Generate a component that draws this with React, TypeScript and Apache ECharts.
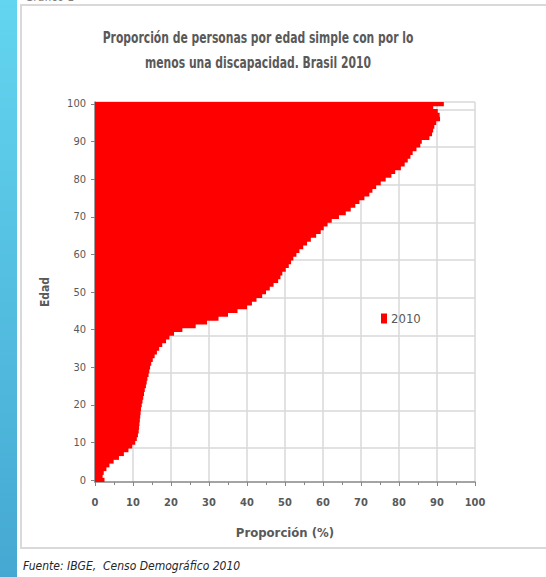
import React, { useEffect, useRef } from "react";
import * as echarts from "echarts";

const ages: string[] = Array.from({ length: 101 }, (_, i) => String(i));
const proportion2010: number[] = [
  2.5, 2.0, 2.3, 3.0, 3.8, 4.9, 6.3, 7.6, 8.8, 9.8,
  10.6, 11.0, 11.3, 11.5, 11.6, 11.7, 11.8, 11.9, 12.0, 12.1,
  12.3, 12.5, 12.7, 12.9, 13.1, 13.4, 13.6, 13.8, 14.1, 14.3,
  14.5, 14.8, 15.2, 15.7, 16.3, 16.9, 17.7, 18.7, 19.6, 20.8,
  23.0, 26.5, 29.5, 32.5, 35.0, 37.5, 40.0, 41.3, 42.5, 44.0,
  45.0, 46.0, 47.0, 48.2, 48.8, 49.3, 50.2, 51.0, 51.6, 52.2,
  53.0, 53.8, 54.8, 55.8, 56.8, 58.2, 59.4, 60.2, 61.2, 62.3,
  64.2, 66.0, 67.3, 68.5, 69.6, 70.9, 72.2, 73.0, 74.0, 75.2,
  76.5, 78.0, 79.0, 80.5, 81.5, 82.3, 83.0, 83.6, 84.6, 85.6,
  86.0, 88.0, 88.7, 89.0, 89.3, 89.8, 90.8, 90.7, 90.2, 89.0,
  91.8,
];
const seriesName = "2010";
const titleLines = [
  "Proporción de personas por edad simple con por lo",
  "menos una discapacidad. Brasil 2010",
];
const xAxisName = "Proporción (%)";
const yAxisName = "Edad";
const sourceText = "Fuente: IBGE,  Censo Demográfico 2010";
const figureLabel = "Gráfico 1";

const FONT = "'DejaVu Sans Condensed', 'Open Sans', sans-serif";

export default function App() {
  const ref = useRef<HTMLDivElement>(null);
  useEffect(() => {
    document.body.style.margin = "0";
    if (!ref.current) return;
    const chart = echarts.init(ref.current, null, { renderer: "svg" });
    chart.setOption({
      animation: false,
      backgroundColor: "#ffffff",
      textStyle: { fontFamily: FONT },
      legend: {
        left: 376,
        top: 307,
        itemWidth: 6,
        itemHeight: 10,
        itemGap: 4,
        data: [{ name: seriesName, icon: "rect" }],
        textStyle: { fontFamily: FONT, fontSize: 13, color: "#595959", padding: [0, 0, 0, -1] },
      },
      grid: { left: 95, right: 71, top: 102, bottom: 95, containLabel: false },
      xAxis: {
        type: "value",
        min: 0,
        max: 100,
        interval: 10,
        name: xAxisName,
        nameLocation: "middle",
        nameGap: 44,
        nameTextStyle: { fontFamily: FONT, fontSize: 13, fontWeight: "bold", color: "#595959" },
        axisLine: { show: true, lineStyle: { color: "#868686", width: 1.5 } },
        axisTick: { show: true, inside: false, length: 4, lineStyle: { color: "#868686" } },
        minorTick: { show: true, splitNumber: 2, length: 3, lineStyle: { color: "#868686" } },
        axisLabel: { fontFamily: FONT, fontSize: 11, fontWeight: "bold", color: "#595959", margin: 15 },
        splitLine: { show: true, lineStyle: { color: "#d9d9d9", width: 1.5 } },
      },
      yAxis: {
        type: "category",
        data: ages,
        name: yAxisName,
        nameLocation: "middle",
        nameGap: 44,
        nameRotate: 90,
        nameTextStyle: { fontFamily: FONT, fontSize: 12, fontWeight: "bold", color: "#595959" },
        axisLine: { show: true, lineStyle: { color: "#868686", width: 1.5 } },
        axisTick: {
          show: true,
          alignWithLabel: true,
          length: 4,
          interval: (i: number) => i % 10 === 0,
          lineStyle: { color: "#868686" },
        },
        axisLabel: {
          fontFamily: FONT,
          fontSize: 11,
          color: "#595959",
          margin: 9,
          interval: (i: number) => i % 10 === 0,
        },
        splitLine: {
          show: true,
          interval: (i: number) => i % 10 === 9,
          lineStyle: { color: "#d9d9d9", width: 1.5 },
        },
      },
      series: [
        {
          name: seriesName,
          type: "bar",
          data: proportion2010,
          barWidth: 4.6,
          barGap: "0%",
          itemStyle: { color: "#ff0000" },
        },
      ],
      graphic: [
        {
          type: "rect",
          left: 0,
          top: 0,
          shape: { x: 0, y: 0, width: 17, height: 577 },
          style: {
            fill: new echarts.graphic.LinearGradient(0, 0, 0, 1, [
              { offset: 0, color: "#63d5f0" },
              { offset: 1, color: "#45a8d2" },
            ]),
          },
          silent: true,
        },
        {
          type: "rect",
          shape: { x: 21, y: 5, width: 530, height: 543 },
          style: { fill: "none", stroke: "#d9d9d9", lineWidth: 2 },
          silent: true,
          z: -1,
        },
        {
          type: "text",
          x: 258,
          y: 37,
          scaleX: 0.8,
          style: {
            text: titleLines[0],
            fontFamily: FONT,
            fontSize: 15,
            fontWeight: "bold",
            fill: "#595959",
            textAlign: "center",
            textVerticalAlign: "middle",
          },
          silent: true,
        },
        {
          type: "text",
          x: 258,
          y: 62,
          scaleX: 0.8,
          style: {
            text: titleLines[1],
            fontFamily: FONT,
            fontSize: 15,
            fontWeight: "bold",
            fill: "#595959",
            textAlign: "center",
            textVerticalAlign: "middle",
          },
          silent: true,
        },
        {
          type: "text",
          x: 25,
          y: -9,
          style: { text: figureLabel, fontFamily: FONT, fontSize: 12, fill: "#7f7f7f", textVerticalAlign: "top" },
          silent: true,
        },
        {
          type: "text",
          x: 23,
          y: 560,
          style: {
            text: sourceText,
            fontFamily: FONT,
            fontSize: 12,
            fontStyle: "italic",
            fill: "#262626",
            textVerticalAlign: "top",
          },
          silent: true,
        },
      ],
    });
    return () => chart.dispose();
  }, []);
  return <div ref={ref} style={{ width: 546, height: 577 }} />;
}
